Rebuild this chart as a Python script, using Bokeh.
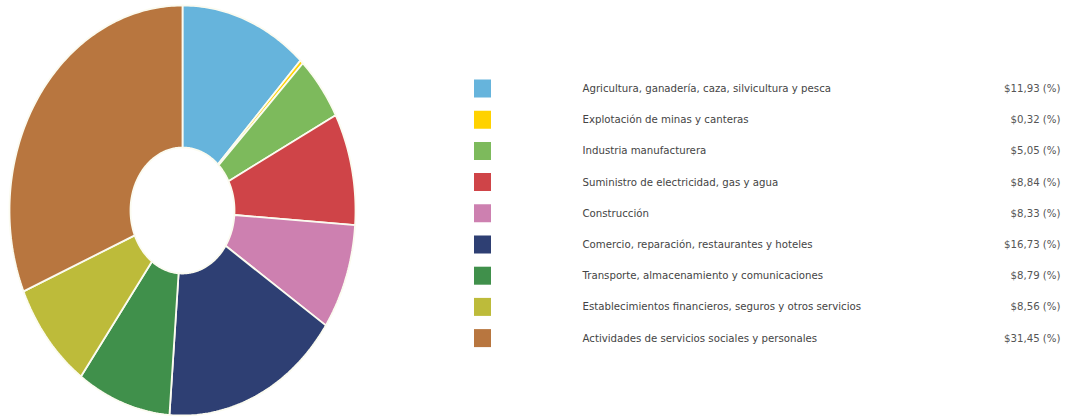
import numpy as np
from bokeh.plotting import figure
from bokeh.models import Range1d, ColumnDataSource
from bokeh.core.properties import value
from bokeh.embed import file_html
from bokeh.resources import INLINE

categories = [
    "Agricultura, ganadería, caza, silvicultura y pesca",
    "Explotación de minas y canteras",
    "Industria manufacturera",
    "Suministro de electricidad, gas y agua",
    "Construcción",
    "Comercio, reparación, restaurantes y hoteles",
    "Transporte, almacenamiento y comunicaciones",
    "Establecimientos financieros, seguros y otros servicios",
    "Actividades de servicios sociales y personales",
]
values = [11.93, 0.32, 5.05, 8.84, 8.33, 16.73, 8.79, 8.56, 31.45]
value_labels = ["$11,93 (%)", "$0,32 (%)", "$5,05 (%)", "$8,84 (%)", "$8,33 (%)",
                "$16,73 (%)", "$8,79 (%)", "$8,56 (%)", "$31,45 (%)"]
colors = ["#66b4dc", "#ffd200", "#7dba5c", "#cf4448", "#cd80b0",
          "#2e3f73", "#40904b", "#bdbb3a", "#b8763f"]

W, H = 1067, 419
p = figure(width=W, height=H, output_backend="svg", toolbar_location=None,
           x_range=Range1d(0, W), y_range=Range1d(H, 0), min_border=0,
           outline_line_color=None)
p.axis.visible = False
p.grid.visible = False

# donut geometry
cx, cy = 182, 210
rx_o, ry_o = 173, 205
rx_i, ry_i = 52, 63

total = float(sum(values))
fracs = np.array(values) / total
ends = np.cumsum(fracs)
starts = ends - fracs
xs, ys = [], []
for s, e in zip(starts, ends):
    n = max(4, int(np.ceil((e - s) * 400)))
    t = np.linspace(s, e, n) * 2 * np.pi  # clockwise from top
    ox = cx + rx_o * np.sin(t)
    oy = cy - ry_o * np.cos(t)
    ix = cx + rx_i * np.sin(t[::-1])
    iy = cy - ry_i * np.cos(t[::-1])
    xs.append(list(np.concatenate([ox, ix])))
    ys.append(list(np.concatenate([oy, iy])))

p.patches(xs=xs, ys=ys, fill_color=colors, line_color="#fbfbf0", line_width=1.8)

# legend
n = len(categories)
row_y = [88 + i * 31.2 for i in range(n)]
src = ColumnDataSource(dict(y=row_y, cat=categories, val=value_labels, col=colors,
                            sx=[482] * n, lx=[582] * n, vx=[1060] * n))
p.rect(x="sx", y="y", width=17, height=18, fill_color="col", line_color=None, source=src)
p.text(x="lx", y="y", text="cat", source=src, text_font=value("DejaVu Sans"),
       text_font_size="10.2px", text_color="#444444", text_baseline="middle", text_align="left")
p.text(x="vx", y="y", text="val", source=src, text_font=value("DejaVu Sans"),
       text_font_size="10.2px", text_color="#555555", text_baseline="middle", text_align="right")

open("out.html", "w").write(file_html(p, INLINE))
